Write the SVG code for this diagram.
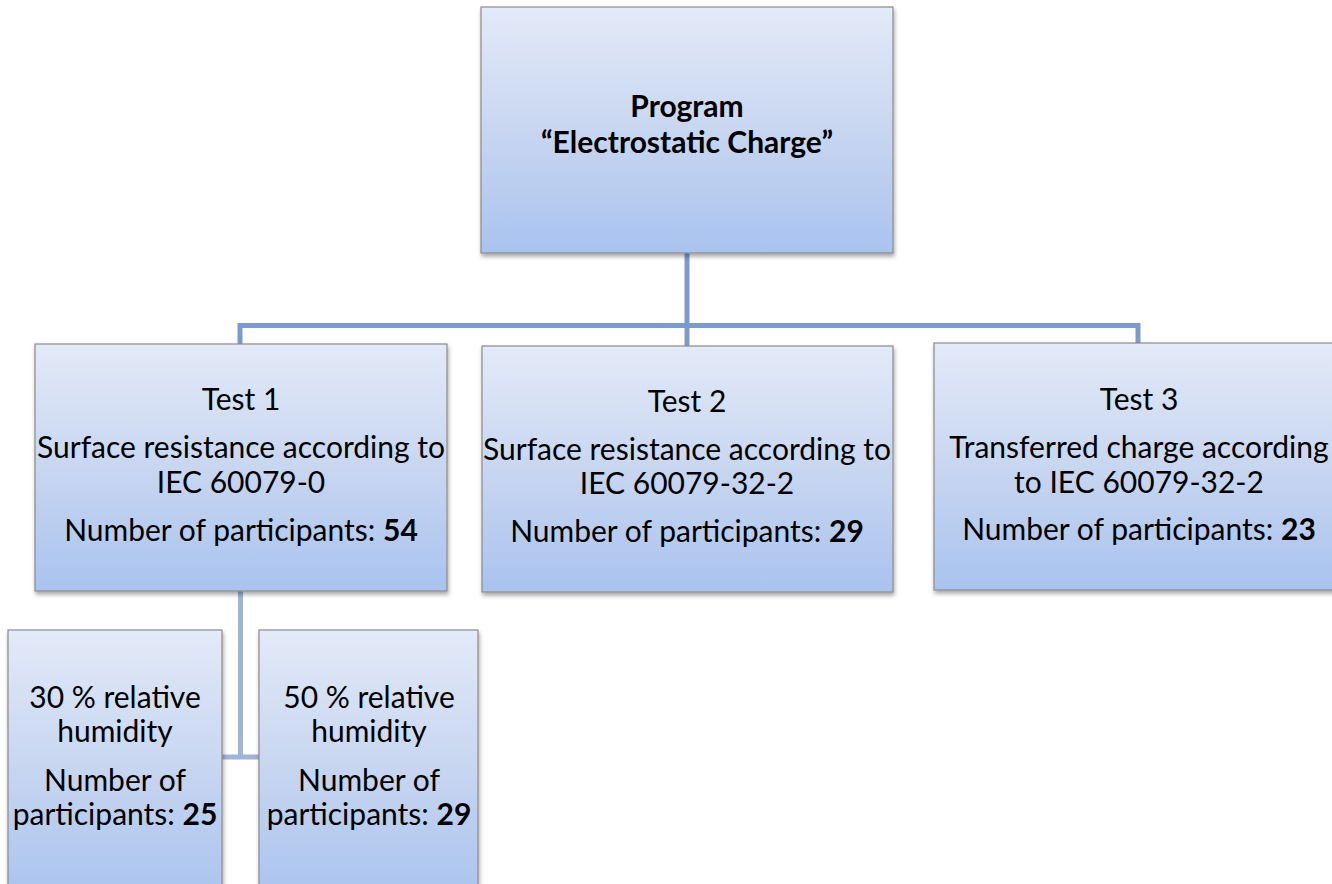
<svg xmlns="http://www.w3.org/2000/svg" width="1332" height="884" viewBox="0 0 1332 884">
<defs>
<linearGradient id="g" x1="0" y1="0" x2="0" y2="1">
<stop offset="0" stop-color="#e3eaf8"/>
<stop offset="0.5" stop-color="#c8d6f0"/>
<stop offset="1" stop-color="#a9c3ef"/>
</linearGradient>
<filter id="sh" x="-5%" y="-5%" width="112%" height="115%">
<feDropShadow dx="1" dy="3" stdDeviation="2" flood-color="#000" flood-opacity="0.35"/>
</filter>
<style>
.box{fill:url(#g);stroke:#8a8a8a;stroke-width:1.2;filter:url(#sh)}
.t{font-family:Lato,"Liberation Sans",sans-serif;font-size:30px;fill:#000;text-anchor:middle}
.b{font-weight:bold}
.c1{stroke:#7b9bcc;stroke-width:5;fill:none}
.c2{stroke:#a0b4d7;stroke-width:5;fill:none}
</style>
</defs>
<g id="connectors">
<path class="c1" d="M687,253 V346 M240,344 V325.5 H1138 V343"/>
<path class="c2" d="M240.5,591 V757 M222,757 H260"/>
</g>
<g id="program">
<rect class="box" x="481" y="7" width="412" height="246"/>
<text class="t b" x="687" y="117">Program</text>
<text class="t b" x="687" y="153">“Electrostatic Charge”</text>
</g>
<g id="test1">
<rect class="box" x="35" y="344" width="412" height="247"/>
<text class="t" x="241" y="410">Test 1</text>
<text class="t" x="241" y="458">Surface resistance according to</text>
<text class="t" x="241" y="493">IEC 60079-0</text>
<text class="t" x="241" y="541">Number of participants: <tspan class="b">54</tspan></text>
</g>
<g id="test2">
<rect class="box" x="482" y="346" width="411" height="246"/>
<text class="t" x="687" y="412">Test 2</text>
<text class="t" x="687" y="460">Surface resistance according to</text>
<text class="t" x="687" y="494">IEC 60079-32-2</text>
<text class="t" x="687" y="542">Number of participants: <tspan class="b">29</tspan></text>
</g>
<g id="test3">
<rect class="box" x="934" y="343" width="412" height="247"/>
<text class="t" x="1139" y="410">Test 3</text>
<text class="t" x="1139" y="458">Transferred  charge according</text>
<text class="t" x="1139" y="493">to IEC 60079-32-2</text>
<text class="t" x="1139" y="540">Number of participants: <tspan class="b">23</tspan></text>
</g>
<g id="humidity30">
<rect class="box" x="8" y="630" width="214" height="270"/>
<text class="t" x="115" y="708">30 % relative</text>
<text class="t" x="115" y="742">humidity</text>
<text class="t" x="115" y="791">Number of</text>
<text class="t" x="115" y="825">participants: <tspan class="b">25</tspan></text>
</g>
<g id="humidity50">
<rect class="box" x="259" y="630" width="219" height="270"/>
<text class="t" x="369" y="708">50 % relative</text>
<text class="t" x="369" y="742">humidity</text>
<text class="t" x="369" y="791">Number of</text>
<text class="t" x="369" y="825">participants: <tspan class="b">29</tspan></text>
</g>
</svg>
